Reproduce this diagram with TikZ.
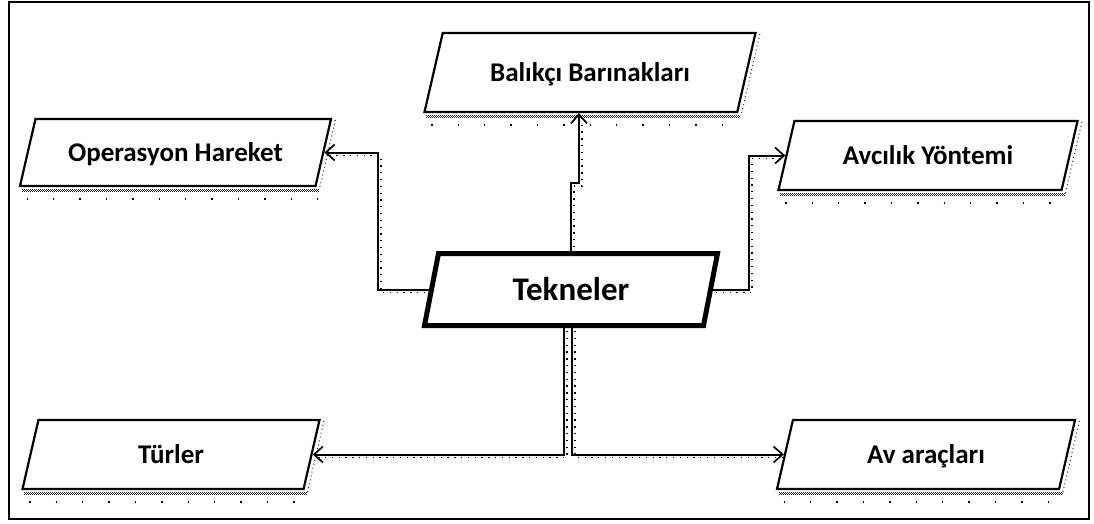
\documentclass[tikz,border=0pt]{standalone}
\usepackage{fontspec}
\setmainfont{Carlito}
\usetikzlibrary{shapes.geometric,arrows.meta}

\begin{document}
\begin{tikzpicture}[x=1pt,y=-1pt,
  box/.style={trapezium, trapezium left angle=77, trapezium right angle=103,
    trapezium stretches body, draw, line width=2.2pt, fill=white,
    inner xsep=0pt, inner ysep=#1, text height=17.4pt, text depth=0pt,
    font=\bfseries\fontsize{27}{31}\selectfont},
  hub/.style={box=#1, line width=5pt, trapezium left angle=79, trapezium right angle=101,
    text height=21.3pt, font=\bfseries\fontsize{33}{38}\selectfont},
  shade/.style={line width=1pt, black!85, dash pattern=on 1pt off 1pt},
  faint/.style={line width=1.4pt, dash pattern=on 1.4pt off 25pt},
  link/.style={line width=2pt, -{Straight Barb[length=9pt,width=16pt,line width=1.7pt]},
    preaction={draw=black, arrows=-, line width=1.3pt, dash pattern=on 1.3pt off 5.5pt,
      transform canvas={xshift=3pt,yshift=-3pt}}},
]
\useasboundingbox (0,0) rectangle (1094,523);
\draw[line width=2.5pt] (9,2) rectangle (1089,519);

% bend points of the connectors
\coordinate (up1) at (571,183);
\coordinate (up2) at (579,183);
\coordinate (lx) at (378,0);
\coordinate (rx) at (749,0);
\coordinate (dl) at (564,0);
\coordinate (dr) at (572,0);

\node[box=30.8pt, minimum width=331pt] (B) at (590,72.5) {Balıkçı Barınakları};
\node[box=24.8pt, minimum width=311pt] (O) at (175.5,152.5) {Operasyon Hareket};
\node[box=25.8pt, minimum width=299pt] (A) at (928,155.5) {Avcılık Yöntemi};
\node[box=25.8pt, minimum width=297pt] (R) at (171,454.5) {Türler};
\node[box=25.8pt, minimum width=298pt] (V) at (926,454.5) {Av araçları};
\node[hub=25.35pt, minimum width=293pt] (T) at (571,289.5) {Tekneler};

% stippled shadows under and beside the boxes
\foreach \n in {B,O,A,R,V}{
  \draw[shade] ([shift={(3,2)}]\n.bottom left corner) -- ([shift={(2,2)}]\n.bottom right corner);
  \draw[shade, dash phase=1pt] ([shift={(3,3)}]\n.bottom left corner) -- ([shift={(2,3)}]\n.bottom right corner);
  \draw[shade] ([shift={(3,4)}]\n.bottom left corner) -- ([shift={(2,4)}]\n.bottom right corner);
  \draw[shade, dash pattern=on 1pt off 3pt] ([shift={(3,2)}]\n.top right corner) -- ([shift={(3,2)}]\n.bottom right corner);
  \draw[faint] ([shift={(8,12)}]\n.bottom left corner) -- ([shift={(2,12)}]\n.bottom right corner);
}

\draw[link] (T.north -| up1) -- (up1) -- (up2) -- (up2 |- B.south);
\draw[link] (T.west) -- (T.west -| lx) |- (O.east);
\draw[link] (T.east) -- (T.east -| rx) |- (A.west);
\draw[link] (T.south -| dl) |- (R.east);
\draw[link] (T.south -| dr) |- (V.west);
\end{tikzpicture}
\end{document}
